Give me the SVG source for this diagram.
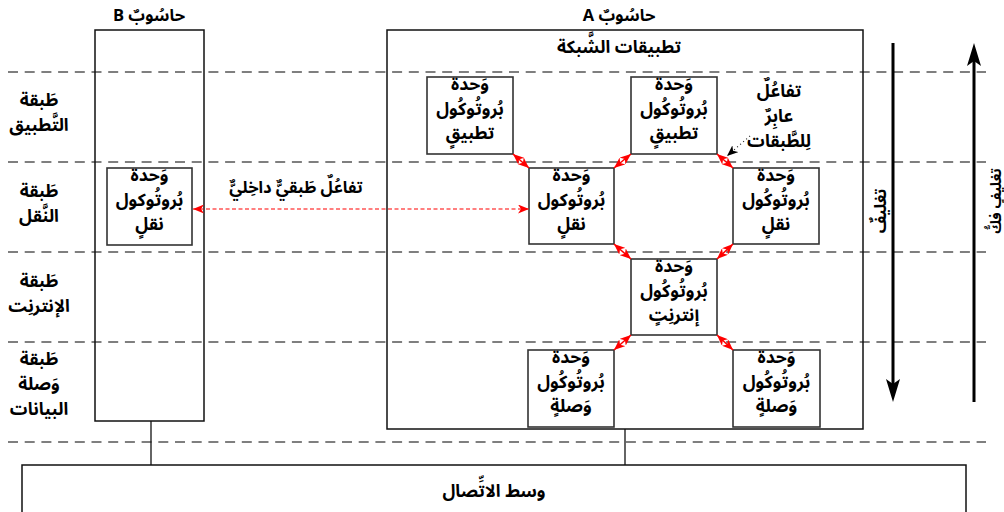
<svg xmlns="http://www.w3.org/2000/svg" width="1004" height="512" viewBox="0 0 1004 512">
<style>
.t{font-family:"Noto Sans Arabic","Noto Sans","DejaVu Sans",sans-serif;font-weight:bold;font-size:17.5px;text-anchor:middle;direction:rtl;fill:#000}
.s{font-size:16.5px}
.ttl{font-size:16.5px}
.dash{stroke:#555;stroke-width:1.6;stroke-dasharray:10 6.7;fill:none}
.comp{fill:none;stroke:#111;stroke-width:1.5}
.box{fill:#fff;stroke:#333;stroke-width:1.6}
.red{stroke:#f00;stroke-width:1.5;fill:none;marker-start:url(#rh);marker-end:url(#rh)}
.reddash{stroke:#f00;stroke-width:1.2;stroke-dasharray:4 2.5;fill:none;marker-start:url(#rh);marker-end:url(#rh)}
.wire{stroke:#111;stroke-width:1.3;fill:none}
</style>
<defs>
<marker id="rh" markerUnits="userSpaceOnUse" markerWidth="11" markerHeight="9" viewBox="0 0 11 9" refX="11" refY="4.5" orient="auto-start-reverse">
<path d="M0,0 L11,4.5 L0,9 L3,4.5 z" fill="#f00"/>
</marker>
<marker id="bh" markerUnits="userSpaceOnUse" markerWidth="11" markerHeight="9" viewBox="0 0 11 9" refX="11" refY="4.5" orient="auto">
<path d="M0,0 L11,4.5 L0,9 L3,4.5 z" fill="#000"/>
</marker>
</defs>

<g id="layer-lines">
<line class="dash" x1="8" y1="72" x2="986" y2="72"/>
<line class="dash" x1="8" y1="162" x2="986" y2="162"/>
<line class="dash" x1="8" y1="252" x2="986" y2="252"/>
<line class="dash" x1="8" y1="342" x2="986" y2="342"/>
<line class="dash" x1="8" y1="442" x2="986" y2="442"/>
</g>

<g id="layer-labels">
<text class="t" x="39" y="106">طَبقة</text>
<text class="t" x="39" y="131">التَّطبيق</text>
<text class="t" x="39" y="197">طَبقة</text>
<text class="t" x="39" y="222">النَّقل</text>
<text class="t" x="39" y="287">طَبقة</text>
<text class="t" x="39" y="312">الإنترنِت</text>
<text class="t" x="39" y="365">طَبقة</text>
<text class="t" x="39" y="390">وَصلة</text>
<text class="t" x="39" y="415">البيانات</text>
</g>

<g id="computer-b">
<rect class="comp" x="95" y="30" width="109" height="391"/>
<text class="t ttl" x="149" y="21">حاسُوبٌ B</text>
</g>

<g id="computer-a">
<rect class="comp" x="387" y="30" width="476" height="399"/>
<text class="t ttl" x="619" y="21">حاسُوبٌ A</text>
<text class="t" x="619" y="53">تطبيقات الشَّبكة</text>
</g>

<g id="medium">
<rect class="comp" x="22" y="465" width="944" height="70"/>
<text class="t" x="494" y="497">وسط الاتِّصال</text>
</g>

<g id="b-transport">
<rect class="box" x="107" y="168" width="85" height="77"/>
<text class="t" x="149.5" y="181">وَحدة</text>
<text class="t" x="149.5" y="206">بُروتُوكول</text>
<text class="t" x="149.5" y="230">نقلٍ</text>
</g>

<g id="a-app-1">
<rect class="box" x="427" y="77" width="86" height="77"/>
<text class="t" x="470" y="90">وَحدة</text>
<text class="t" x="470" y="115">بُروتُوكُول</text>
<text class="t" x="470" y="139">تطبيقٍ</text>
</g>

<g id="a-app-2">
<rect class="box" x="631" y="77" width="86" height="77"/>
<text class="t" x="674" y="90">وَحدة</text>
<text class="t" x="674" y="115">بُروتُوكُول</text>
<text class="t" x="674" y="139">تطبيقٍ</text>
</g>

<g id="a-transport-1">
<rect class="box" x="529" y="168" width="85" height="76"/>
<text class="t" x="571.5" y="181">وَحدة</text>
<text class="t" x="571.5" y="206">بُروتُوكول</text>
<text class="t" x="571.5" y="230">نقلٍ</text>
</g>

<g id="a-transport-2">
<rect class="box" x="733" y="168" width="86" height="76"/>
<text class="t" x="776" y="181">وَحدة</text>
<text class="t" x="776" y="206">بُروتُوكُول</text>
<text class="t" x="776" y="230">نقلٍ</text>
</g>

<g id="a-internet">
<rect class="box" x="631" y="259" width="86" height="76"/>
<text class="t" x="674" y="272">وَحدة</text>
<text class="t" x="674" y="297">بُروتُوكُول</text>
<text class="t" x="674" y="321">إنترنِتٍ</text>
</g>

<g id="a-link-1">
<rect class="box" x="528" y="350" width="86" height="77"/>
<text class="t" x="571" y="363">وَحدة</text>
<text class="t" x="571" y="388">بُروتُوكُول</text>
<text class="t" x="571" y="412">وَصلةٍ</text>
</g>

<g id="a-link-2">
<rect class="box" x="733" y="350" width="87" height="77"/>
<text class="t" x="776.5" y="363">وَحدة</text>
<text class="t" x="776.5" y="388">بُروتُوكُول</text>
<text class="t" x="776.5" y="412">وَصلةٍ</text>
</g>

<g id="connectors">
<line class="wire" x1="151" y1="421" x2="151" y2="465"/>
<line class="wire" x1="625" y1="429" x2="625" y2="465"/>
<line class="reddash" x1="193" y1="209" x2="529" y2="209"/>
<line class="red" x1="513" y1="154" x2="529" y2="168"/>
<line class="red" x1="631" y1="154" x2="614" y2="168"/>
<line class="red" x1="717" y1="154" x2="733" y2="168"/>
<line class="red" x1="614" y1="244" x2="631" y2="259"/>
<line class="red" x1="733" y1="244" x2="717" y2="259"/>
<line class="red" x1="631" y1="335" x2="614" y2="350"/>
<line class="red" x1="717" y1="335" x2="733" y2="350"/>
<line x1="750" y1="136" x2="727" y2="156" stroke="#222" stroke-width="1.2" stroke-dasharray="1 3" marker-end="url(#bh)"/>
<line x1="893" y1="43" x2="893" y2="385" stroke="#000" stroke-width="3"/>
<path d="M893,402 L886,379 L893,384 L900,379 z" fill="#000"/>
<line x1="974" y1="402" x2="974" y2="60" stroke="#000" stroke-width="3"/>
<path d="M974,43 L967,66 L974,61 L981,66 z" fill="#000"/>
</g>

<g id="labels">
<text class="t s" x="296" y="193">تفاعُلٌ طَبقيٌّ داخِليٌّ</text>
<text class="t" x="779" y="97">تفاعُلٌ</text>
<text class="t" x="779" y="122">عابِرٌ</text>
<text class="t" x="779" y="147">لِلطَّبقات</text>
<text class="t" style="font-size:16px" transform="translate(886,211) rotate(-90)">تغليفٌ</text>
<text class="t" style="font-size:14.5px" transform="translate(1001,201) rotate(-90)">تغليفٍ فكُّ</text>
</g>
</svg>
